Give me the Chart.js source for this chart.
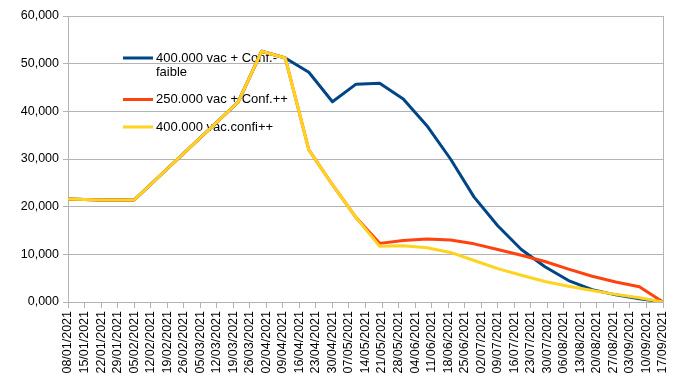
<!DOCTYPE html>
<html>
<head>
<meta charset="utf-8">
<script src="https://cdn.jsdelivr.net/npm/chart.js@4"></script>
<style>
  body { margin: 0; background: #fff; }
  #chart { display: block; }
</style>
</head>
<body>
<canvas id="chart" width="684" height="385"></canvas>
<script>
// valeurs
const tickLabels = ['08/01/2021','15/01/2021','22/01/2021','29/01/2021','05/02/2021','12/02/2021','19/02/2021','26/02/2021',
  '05/03/2021','12/03/2021','19/03/2021','26/03/2021','02/04/2021','09/04/2021','16/04/2021','23/04/2021','30/04/2021',
  '07/05/2021','14/05/2021','21/05/2021','28/05/2021','04/06/2021','11/06/2021','18/06/2021','25/06/2021','02/07/2021',
  '09/07/2021','16/07/2021','23/07/2021','30/07/2021','06/08/2021','13/08/2021','20/08/2021','27/08/2021','03/09/2021',
  '10/09/2021','17/09/2021'];

const pointDates = ['08/01/2021','22/01/2021','05/02/2021','21/03/2021','31/03/2021','10/04/2021','20/04/2021','30/04/2021',
  '10/05/2021','20/05/2021','30/05/2021','09/06/2021','19/06/2021','29/06/2021','09/07/2021','19/07/2021','29/07/2021',
  '08/08/2021','18/08/2021','28/08/2021','07/09/2021','17/09/2021'];

const seriesNames = ['400.000 vac + Conf.-faible', '250.000 vac + Conf.++', '400.000 vac.confi++'];
const seriesColors = ['#004586', '#ff420e', '#ffd320'];

const vacFaible = [21600, 21400, 21400, 41900, 52600, 51200, 48200, 42000, 45700, 45900, 42600, 37000,
  30000, 22000, 16000, 11000, 7400, 4500, 2600, 1500, 700, 0];
const vac250 = [21600, 21400, 21400, 41900, 52600, 51200, 31900, 24600, 17700, 12300, 12900, 13200,
  13000, 12200, 11000, 9800, 8500, 6900, 5400, 4200, 3200, 0];
const vacConfi = [21600, 21400, 21400, 41900, 52600, 51200, 31900, 24600, 17700, 11700, 11800, 11400,
  10400, 8700, 7000, 5600, 4300, 3300, 2400, 1600, 900, 0];

// jours depuis le 08/01/2021
function dayOf(s) {
  const [d, m, y] = s.split('/').map(Number);
  return Math.round((Date.UTC(y, m - 1, d) - Date.UTC(2021, 0, 8)) / 86400000);
}
const days = pointDates.map(dayOf);
const lastDay = dayOf(tickLabels[tickLabels.length - 1]);

function toPoints(values) {
  return values.map((v, i) => ({ x: days[i], y: v }));
}

const gridColor = '#b3b3b3';
const font = { family: 'Liberation Sans', size: 12.5 };

// légende dessinée à la main dans la zone du graphique
const innerLegend = {
  id: 'innerLegend',
  beforeDatasetsDraw(chart) {
    const ctx = chart.ctx;
    const area = chart.chartArea;
    let y = area.top + 42;
    ctx.save();
    ctx.font = '13px "Liberation Sans"';
    ctx.textBaseline = 'middle';
    ctx.fillStyle = '#000';
    chart.data.datasets.forEach(ds => {
      const lines = ds.label.split(/(?<=-)/);
      ctx.strokeStyle = ds.borderColor;
      ctx.lineWidth = 3;
      ctx.beginPath();
      ctx.moveTo(area.left + 55, y);
      ctx.lineTo(area.left + 85, y);
      ctx.stroke();
      lines.forEach((t, k) => ctx.fillText(t, area.left + 88, y + k * 14));
      y += lines.length * 14 + 13.5;
    });
    ctx.restore();
  }
};

new Chart(document.getElementById('chart'), {
  type: 'line',
  data: {
    datasets: [
      { label: seriesNames[0], data: toPoints(vacFaible), borderColor: seriesColors[0], order: 2 },
      { label: seriesNames[1], data: toPoints(vac250), borderColor: seriesColors[1], order: 1 },
      { label: seriesNames[2], data: toPoints(vacConfi), borderColor: seriesColors[2], order: 0 }
    ]
  },
  options: {
    responsive: false,
    animation: false,
    devicePixelRatio: 1,
    layout: { padding: { left: 0, right: 21, top: 16, bottom: 0 } },
    elements: {
      line: { borderWidth: 3, tension: 0, borderJoinStyle: 'round', fill: false },
      point: { radius: 0 }
    },
    plugins: {
      legend: { display: false },
      tooltip: { enabled: false }
    },
    scales: {
      x: {
        type: 'linear',
        min: 0,
        max: lastDay,
        afterFit(scale) { scale.height = 83; },
        grid: {
          color: c => (c.tick && c.tick.value === lastDay ? gridColor : 'rgba(0,0,0,0)'),
          tickColor: gridColor,
          tickLength: 6
        },
        border: { color: gridColor },
        ticks: {
          stepSize: 7,
          autoSkip: false,
          maxRotation: 90,
          minRotation: 90,
          padding: 3,
          color: '#000',
          font: font,
          callback: (v, i) => tickLabels[i]
        }
      },
      y: {
        min: 0,
        max: 60000,
        afterFit(scale) { scale.width = 68; },
        grid: { color: gridColor, tickLength: 5 },
        border: { color: gridColor },
        ticks: {
          stepSize: 10000,
          padding: 4,
          color: '#000',
          font: font,
          callback: v => (v / 1000).toFixed(3).replace('.', ',')
        }
      }
    }
  },
  plugins: [innerLegend]
});
</script>
</body>
</html>
